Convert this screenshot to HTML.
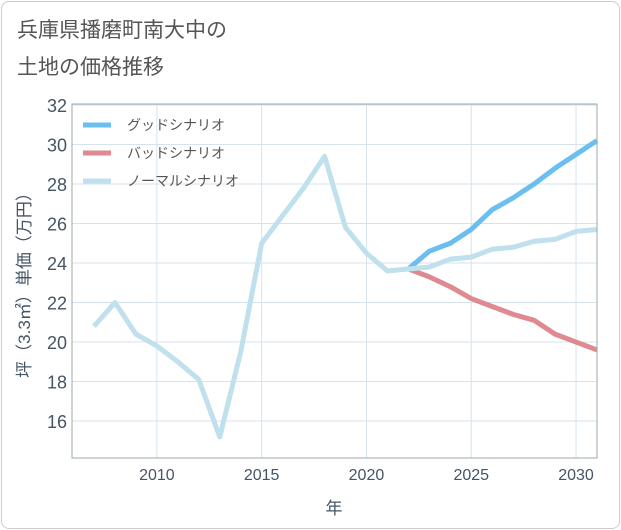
<!DOCTYPE html>
<html><head><meta charset="utf-8"><style>
body{margin:0;background:#fff;font-family:"Liberation Sans","Noto Sans CJK JP",sans-serif}
#card{position:absolute;left:1px;top:1px;width:617px;height:526px;border:1px solid #ccc;border-radius:8px;background:#fff}
#title{position:absolute;left:17px;top:12px;font-size:21px;line-height:37px;color:#555}
</style></head><body>
<div id="card"></div>
<div id="title">兵庫県播磨町南大中の<br>土地の価格推移</div>
<svg id="chart" width="621" height="530" style="position:absolute;left:0;top:0"></svg>
<script>
const years=[2007,2008,2009,2010,2011,2012,2013,2014,2015,2016,2017,2018,2019,2020,2021,2022,2023,2024,2025,2026,2027,2028,2029,2030,2031];
const normal=[20.8,22.0,20.4,19.8,19.0,18.1,15.2,19.5,25.0,26.4,27.8,29.4,25.8,24.5,23.6,23.7,23.8,24.2,24.3,24.7,24.8,25.1,25.2,25.6,25.7];
const futureYears=[2022,2023,2024,2025,2026,2027,2028,2029,2030,2031];
const good=[23.7,24.6,25.0,25.7,26.7,27.3,28.0,28.8,29.5,30.2];
const bad=[23.7,23.3,22.8,22.2,21.8,21.4,21.1,20.4,20.0,19.6];
const yTicks=[16,18,20,22,24,26,28,30,32];
const xTicks=[2010,2015,2020,2025,2030];
const L=72,R=597,T=105,B=458,X0=2005.95,X1=2031,Y0=14.13,Y1=32;
const sx=v=>L+(v-X0)/(X1-X0)*(R-L), sy=v=>B-(v-Y0)/(Y1-Y0)*(B-T);
const svg=document.getElementById('chart'),NS='http://www.w3.org/2000/svg';
function mk(t,a,p){const e=document.createElementNS(NS,t);for(const k in a)e.setAttribute(k,a[k]);(p||svg).appendChild(e);return e;}
const bg=mk('rect',{x:L,y:T-1,width:R-L,height:B-T+1,fill:'#fff',stroke:'#aab','stroke-width':1});


yTicks.forEach(v=>{const g=mk('line',{x1:L,x2:R,y1:sy(v),y2:sy(v),stroke:'#d5e3ee'});


const t=mk('text',{x:L-5,y:sy(v)+7,'text-anchor':'end','font-size':18,fill:'#456'});t.textContent=v;

});
xTicks.forEach(v=>{const g=mk('line',{x1:sx(v),x2:sx(v),y1:T,y2:B,stroke:'#d5e3ee'});


const t=mk('text',{x:sx(v),y:B+22,'text-anchor':'middle','font-size':16,fill:'#456'});t.textContent=v;

});
function line(xs,ys,c,n){const p=mk('polyline',{points:xs.map((x,i)=>sx(x)+','+sy(ys[i])).join(' '),fill:'none',stroke:c,'stroke-width':5,'stroke-linejoin':'round'});

}
line(futureYears,good,'#6bbef0','good-scenario-line');
line(futureYears,bad,'#de8a90','bad-scenario-line');
line(years,normal,'#bfe0ec','normal-scenario-line');
mk('rect',{x:L,y:T-1,width:R-L,height:B-T+1,fill:'none',stroke:'#9aa','stroke-width':1});
[['グッドシナリオ','#6bbef0'],['バッドシナリオ','#de8a90'],['ノーマルシナリオ','#bfe0ec']].forEach((d,i)=>{
const y=125+i*28;const g=mk('g',{});


mk('line',{x1:83,x2:111,y1:y,y2:y,stroke:d[1],'stroke-width':5},g);
const t=mk('text',{x:127,y:y+5,'font-size':14,fill:'#555'},g);t.textContent=d[0];});
const yt=mk('text',{transform:'translate(30,281) rotate(-90)','text-anchor':'middle','font-size':17,fill:'#456'});yt.textContent='坪（3.3㎡）単価（万円）';


const xt=mk('text',{x:334,y:514,'text-anchor':'middle','font-size':17,fill:'#456'});xt.textContent='年';


</script>
</body></html>
